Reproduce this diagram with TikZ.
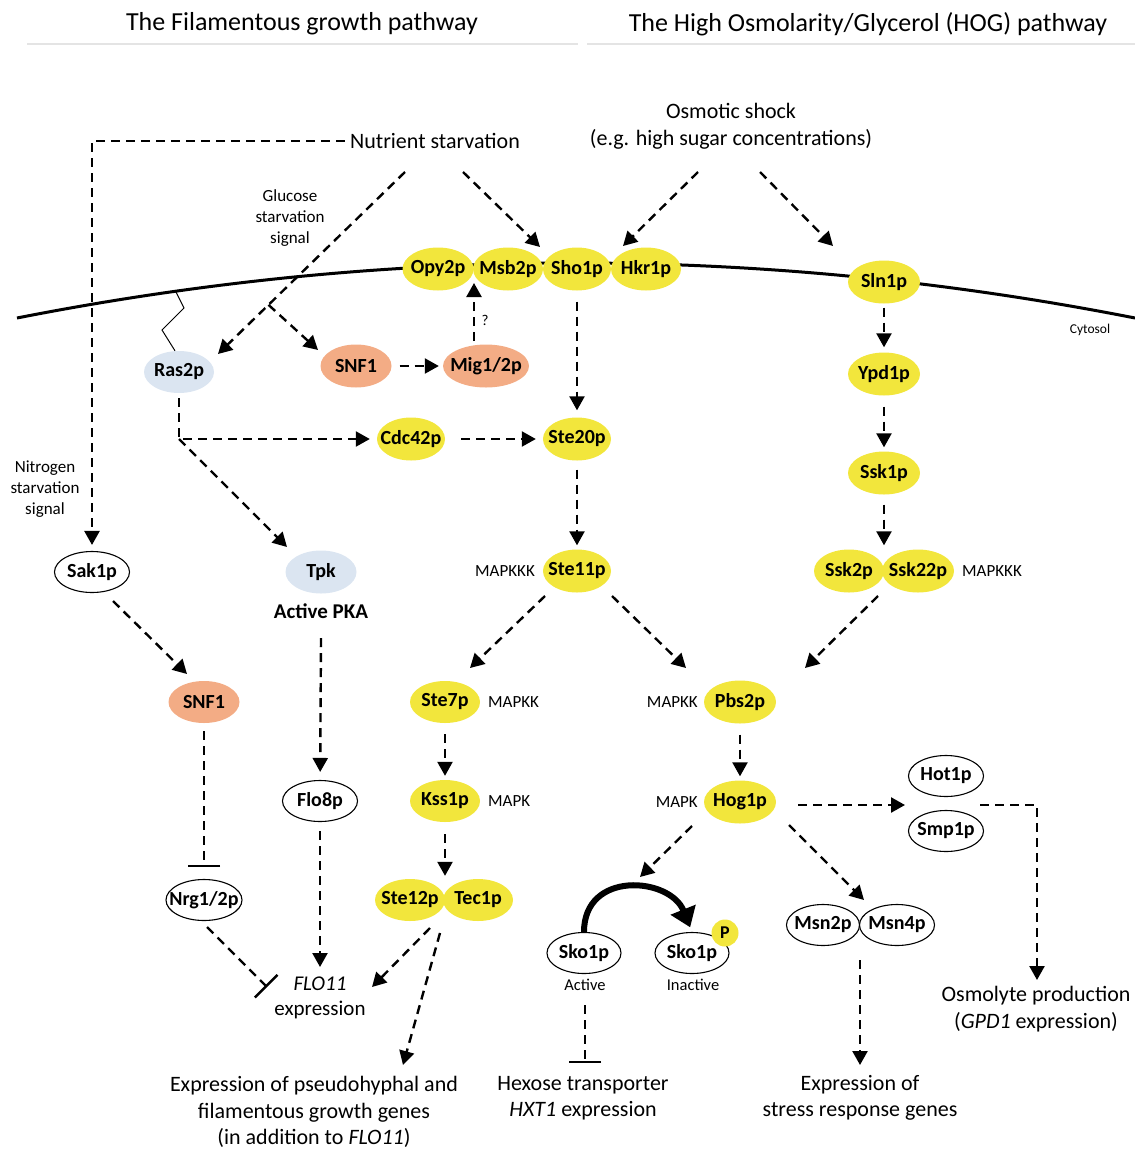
\documentclass[tikz,border=0pt]{standalone}
\usepackage{fontspec}
\setmainfont{Carlito}
\usetikzlibrary{shapes.geometric,arrows.meta,calc}
\definecolor{cyel}{RGB}{242,230,60}
\definecolor{corg}{RGB}{243,172,133}
\definecolor{cblu}{RGB}{219,229,241}
\definecolor{chdr}{RGB}{228,228,228}
\newcommand\zb[1]{\makebox[0pt]{\raisebox{-1pt}{#1}}}
\begin{document}
\begin{tikzpicture}[x=1pt,y=-1pt,
  every node/.style={inner sep=2pt},
  pr/.style={ellipse, inner sep=0pt, minimum width=70pt, minimum height=43pt, font=\bfseries\fontsize{20}{22}\selectfont},
  yel/.style={pr, fill=cyel},
  org/.style={pr, fill=corg},
  blu/.style={pr, fill=cblu},
  wht/.style={pr, draw=black, line width=1.1pt, fill=white, minimum height=41pt, minimum width=75pt},
  flow/.style={line width=2.4pt, dash pattern=on 9pt off 6pt, -{Triangle[length=14pt,width=15pt]}},
  inh/.style={line width=2.4pt, dash pattern=on 9pt off 6pt, -{Bar[width=32pt,line width=2.4pt]}},
  big/.style={font=\fontsize{22}{26.5}\selectfont, align=center},
  sml/.style={font=\fontsize{17}{21}\selectfont, align=center},
  tiny/.style={font=\fontsize{16.5}{20}\selectfont},
]
\useasboundingbox (0,0) rectangle (1135,1149);

% headers
\node[font=\fontsize{26}{30}\selectfont] (t1) at (302,24) {The Filamentous growth pathway};
\node[font=\fontsize{26}{30}\selectfont] (t2) at (868,24) {The High Osmolarity/Glycerol (HOG) pathway};
\draw[chdr, line width=2pt] (27,44) -- (578,44);
\draw[chdr, line width=2pt] (587,44) -- (1135,44);

% membrane
\draw[line width=3pt] (17,318) .. controls (389.7,244.7) and (762.3,244.7) .. (1135,318);
\coordinate (zz0) at (176,292);

% membrane proteins
\node[yel, minimum width=71pt] (opy) at (438,269) {\zb{Opy2p}};
\node[yel, minimum width=70pt] (msb) at (508,269) {\zb{Msb2p}};
\node[yel, minimum width=68pt] (sho) at (577,269) {\zb{Sho1p}};
\node[yel, minimum width=70pt] (hkr) at (646,269) {\zb{Hkr1p}};
\node[yel, minimum width=72pt] (sln) at (884,282) {\zb{Sln1p}};

% filamentous pathway nodes
\node[blu, minimum width=70pt, minimum height=42pt] (ras2) at (179,372) {\zb{Ras2p}};
\node[org, minimum width=71pt] (snf1) at (356,366) {\zb{SNF1}};
\node[org, minimum width=86pt] (mig) at (486,366) {\zb{Mig1/2p}};
\node[yel, minimum width=68pt] (cdc42) at (411,439) {\zb{Cdc42p}};
\node[yel, minimum width=68pt] (ste20) at (577,439) {\zb{Ste20p}};
\node[yel, minimum width=68pt] (ste11) at (577,571) {\zb{Ste11p}};
\node[blu, minimum width=71pt] (tpk) at (321,572) {\zb{Tpk}};
\node[wht] (sak) at (92,572) {\zb{Sak1p}};
\node[org, minimum width=71pt, minimum height=42pt] (snf1b) at (204,702) {\zb{SNF1}};
\node[wht] (flo8) at (320,801) {\zb{Flo8p}};
\node[wht, minimum width=76pt] (nrg) at (204,900) {\zb{Nrg1/2p}};
\node[yel, minimum width=70pt, minimum height=42pt] (ste7) at (445,702) {\zb{Ste7p}};
\node[yel, minimum width=70pt, minimum height=42pt] (kss1) at (445,801) {\zb{Kss1p}};
\node[yel, minimum width=70pt, minimum height=42pt] (ste12) at (410,900) {\zb{Ste12p}};
\node[yel, minimum width=70pt, minimum height=42pt] (tec1) at (478,900) {\zb{Tec1p}};

% HOG pathway nodes
\node[yel, minimum width=72pt] (ypd) at (884,374) {\zb{Ypd1p}};
\node[yel, minimum width=72pt] (ssk1) at (884,473) {\zb{Ssk1p}};
\node[yel, minimum width=70pt] (ssk2) at (849,571) {\zb{Ssk2p}};
\node[yel, minimum width=72pt] (ssk22) at (918,571) {\zb{Ssk22p}};
\node[yel, minimum width=72pt] (pbs2) at (740,702) {\zb{Pbs2p}};
\node[yel, minimum width=72pt] (hog1) at (740,802) {\zb{Hog1p}};
\node[wht] (hot) at (946,776) {\zb{Hot1p}};
\node[wht] (smp) at (946,831) {\zb{Smp1p}};
\node[wht, minimum width=74pt] (sko1a) at (584,953) {\zb{Sko1p}};
\node[wht, minimum width=74pt] (sko1i) at (692,953) {\zb{Sko1p}};
\node[circle, fill=cyel, minimum size=27pt, inner sep=0pt, font=\bfseries\fontsize{18}{20}\selectfont] (pp) at (725,933) {P};
\node[wht, minimum width=73pt] (msn2) at (823,925) {\zb{Msn2p}};
\node[wht, minimum width=75pt] (msn4) at (897,925) {\zb{Msn4p}};

% text nodes
\node[big] (ns) at (435,141) {Nutrient starvation};
\node[big, font=\fontsize{22}{27.5}\selectfont] (osm) at (731,126) {Osmotic shock\\(e.g. high sugar concentrations)};
\node[sml] (gss) at (290,218) {Glucose\\starvation\\signal};
\node[sml] (nss) at (45,489) {Nitrogen\\starvation\\signal};
\node[font=\fontsize{13.5}{16}\selectfont] (cyt) at (1090,330) {Cytosol};
\node[font=\fontsize{15}{18}\selectfont] (q) at (485,320) {?};
\node[font=\bfseries\fontsize{21}{25}\selectfont] (pka) at (321,611) {Active PKA};
\node[sml, anchor=east] (lk1) at (537,571) {MAPKKK};
\node[sml, anchor=west] (lk2) at (486,702) {MAPKK};
\node[sml, anchor=west] (lk3) at (486,801) {MAPK};
\node[sml, anchor=east] (lk4) at (700,702) {MAPKK};
\node[sml, anchor=east] (lk5) at (700,802) {MAPK};
\node[sml, anchor=west] (lk6) at (960,571) {MAPKKK};
\node[big, font=\fontsize{21}{25}\selectfont] (flo11) at (320,998) {\textit{FLO11}\\expression};
\node[big] (pse) at (314,1112) {Expression of pseudohyphal and\\filamentous growth genes\\(in addition to \textit{FLO11})};
\node[tiny] (act) at (585,985) {Active};
\node[tiny] (inact) at (693,985) {Inactive};
\node[big] (hxt) at (583,1098) {Hexose transporter\\\textit{HXT1} expression};
\node[big] (stress) at (860,1098) {Expression of\\stress response genes};
\node[big] (osmo) at (1036,1009) {Osmolyte production\\(\textit{GPD1} expression)};

% coordinates for free ends
\coordinate (nsL) at (405,172);
\coordinate (rasIn) at (218,354);
\coordinate (snfIn) at (318,350);
\coordinate (nsR) at (463,172);
\coordinate (shoIn) at (540,247);
\coordinate (osL) at (698,172);
\coordinate (hkrIn) at (623,246);
\coordinate (osR) at (760,172);
\coordinate (slnIn) at (833,246);
\coordinate (rasC) at (179,439);
\coordinate (tpkIn) at (287,547);
\coordinate (sakOut) at (113,601);
\coordinate (snfbIn) at (187,674);
\coordinate (pkaOut) at (321,638);
\coordinate (flo11In) at (320,967);
\coordinate (nrgOut) at (207,927);
\coordinate (flo11Bar) at (267,987);
\coordinate (tecOutA) at (430,928);
\coordinate (flo11InR) at (372,987);
\coordinate (tecOutB) at (440,933);
\coordinate (pseIn) at (403,1065);
\coordinate (s11OutL) at (545,596);
\coordinate (ste7In) at (470,668);
\coordinate (s11OutR) at (612,596);
\coordinate (pbsInL) at (686,668);
\coordinate (sskOut) at (878,596);
\coordinate (pbsInR) at (805,668);
\coordinate (hogOutL) at (692,826);
\coordinate (skoIn) at (640,877);
\coordinate (hogOutR) at (789,825);
\coordinate (msnIn) at (864,900);
\coordinate (hogOutE) at (798,805);
\coordinate (hotIn) at (905,805);
\coordinate (hotOut) at (980,805);
\coordinate (osmIn) at (1037,980);
\coordinate (msnOut) at (860,960);
\coordinate (stressIn) at (860,1065);
\coordinate (skoOut) at (585,1005);
\coordinate (hxtBar) at (585,1063);
\coordinate (migOut) at (474,341);
\coordinate (msbIn) at (474,283);

% connectors: top
\draw[flow, shorten <=3pt, shorten >=6pt] (ns.west) -| (sak.north);
\draw[flow] (nsL) -- (rasIn);
\draw[flow] ($(nsL)!0.73!(rasIn)$) -- (snfIn);
\draw[flow] (nsR) -- (shoIn);
\draw[flow] (osL) -- (hkrIn);
\draw[flow] (osR) -- (slnIn);
\draw[line width=1pt] (zz0) -- (184,308) -- (162,330) -- ($(ras2.north)+(-4,0)$);

% filamentous connectors
\draw[flow, shorten <=8pt, shorten >=4pt] (snf1) -- (mig);
\draw[flow] (migOut) -- (msbIn);
\draw[flow, shorten <=11pt, shorten >=7pt] (sho) -- (ste20);
\draw[flow, shorten <=5pt, shorten >=7pt] (ras2.south) -- (rasC) -- (cdc42.west);
\draw[flow] (rasC) -- (tpkIn);
\draw[flow, shorten <=16pt, shorten >=7pt] (cdc42) -- (ste20);
\draw[flow, shorten <=9pt, shorten >=4pt] (ste20) -- (ste11);
\draw[flow] (s11OutL) -- (ste7In);
\draw[flow] (s11OutR) -- (pbsInL);
\draw[flow, shorten <=11pt, shorten >=4pt] (ste7) -- (kss1);
\draw[flow, shorten <=12pt, shorten >=3pt] (kss1.south) -- (kss1.south |- ste12.north);
\draw[flow] (sakOut) -- (snfbIn);
\draw[inh, shorten <=8pt, shorten >=12pt] (snf1b) -- (nrg);
\draw[flow, shorten >=8pt] (pkaOut) -- (flo8);
\draw[flow, shorten <=9pt] (flo8.south) -- (flo11In);
\draw[inh] (nrgOut) -- (flo11Bar);
\draw[flow] (tecOutA) -- (flo11InR);
\draw[flow] (tecOutB) -- (pseIn);

% HOG connectors
\draw[flow, shorten <=4pt, shorten >=5pt] (sln) -- (ypd);
\draw[flow, shorten <=11pt, shorten >=4pt] (ypd) -- (ssk1);
\draw[flow, shorten <=10pt, shorten >=4pt] (ssk1) -- (ssk1.south |- ssk2.north);
\draw[flow] (sskOut) -- (pbsInR);
\draw[flow, shorten <=11pt, shorten >=4pt] (pbs2) -- (hog1);
\draw[flow] (hogOutE) -- (hotIn);
\draw[flow] (hotOut) -| (osmIn);
\draw[flow] (hogOutL) -- (skoIn);
\draw[flow] (hogOutR) -- (msnIn);
\draw[flow] (msnOut) -- (stressIn);
\draw[inh] (skoOut) -- (hxtBar);
\draw[line width=6pt, -{Triangle[length=19pt,width=26pt]}, shorten >=5pt]
  (sko1a.north) .. controls +(0,-62) and +(-22,-55) .. (sko1i.north);
\end{tikzpicture}
\end{document}
